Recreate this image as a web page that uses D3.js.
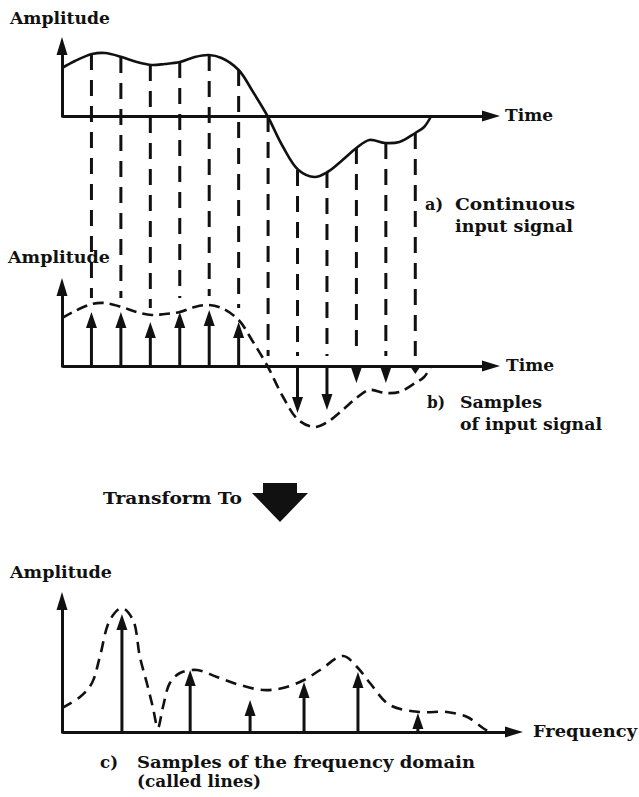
<!DOCTYPE html>
<html>
<head>
<meta charset="utf-8">
<script src="https://cdn.jsdelivr.net/npm/d3@7"></script>
<style>
  html, body { margin: 0; padding: 0; background: #fff; }
  text { font-family: "DejaVu Serif", "Liberation Serif", serif; font-weight: bold; fill: #111; }
</style>
</head>
<body>
<svg id="chart" width="639" height="797"></svg>
<script>
// ---------- DATA ----------
// a) continuous input signal (time units, amplitude)
const signalT   = [0, 0.44, 1.02, 1.46, 2.03, 2.54, 3.05, 3.49, 4, 4.51, 4.98, 5.42, 6, 6.47, 6.98, 7.49, 8.03, 8.58, 9.02, 9.53, 10, 10.44, 10.98, 11.46, 12, 12.3, 12.54];
const signalAmp = [48, 55, 62, 63, 59, 54, 51, 52, 54, 59, 61, 58, 46, 25, 0, -30, -54, -61, -56, -44, -32, -24, -27, -26, -17, -11, 0];
// sample instants and signal values there
const sampleT      = [1, 2, 3, 4, 5, 6, 7, 8, 9, 10, 11, 12];
const sampleAmp    = [62, 59, 51, 54, 61, 46, 0, -54, -56, -32, -27, -17];
// b) sample arrows
const sampleArrow  = [54, 54, 44, 54, 56, 44, 0, -47, -44, -17, -17, -8];
// c) frequency domain envelope
const freqF   = [0, 3.9, 6.5, 8.2, 10.4, 13, 15.4, 16.9, 18.4, 19.7, 20.8, 21.9, 23.4, 25.6, 29.3, 33.6, 38.6, 43.6, 47.9, 52.5, 56, 61, 64, 66.8, 71.1, 77.7, 83.5, 87.9, 91.3, 92.8];
const freqAmp = [24, 35, 49, 75, 112, 124, 112, 75, 49, 25, 4, 25, 49, 59, 62, 55, 47, 42, 44, 52, 62, 76, 65, 49, 27, 20, 20, 15, 4, 0];
// spectral lines
const lineF   = [13, 27.8, 40.8, 52.5, 64.2, 77.2];
const lineAmp = [118, 62, 32, 50, 60, 19];

// ---------- SETUP ----------
const svg = d3.select("#chart");
const INK = "#111";

const xTime = d3.scaleLinear().domain([0, 14.3]).range([62, 483]);
const yTop  = d3.scaleLinear().domain([-70, 79]).range([186, 37]);
const yMid  = d3.scaleLinear().domain([-70, 88]).range([436, 278]);
const xFreq = d3.scaleLinear().domain([0, 100]).range([62, 523]);
const yFreq = d3.scaleLinear().domain([0, 140]).range([732, 592]);

function arrowHead(g, x, yTip, w, h, dir) {
  // dir: -1 points up, +1 points down, 'r' points right
  let pts;
  if (dir === 'r') pts = [[x, yTip], [x - h, yTip - w / 2], [x - h, yTip + w / 2]];
  else pts = [[x, yTip], [x - w / 2, yTip - dir * h], [x + w / 2, yTip - dir * h]];
  g.append("polygon").attr("points", pts.map(p => p.join(",")).join(" ")).attr("fill", INK);
}

function axes(g, xs, ys, tipX) {
  // horizontal axis via d3.axisBottom with no ticks
  const ax = g.append("g").attr("transform", `translate(0,${ys(0)})`)
    .call(d3.axisBottom(xs.copy().range([xs.range()[0], tipX - 10])).tickValues([]).tickSizeOuter(0));
  ax.select(".domain").attr("stroke", INK).attr("stroke-width", 3);
  arrowHead(g, tipX, ys(0), 11, 18, 'r');
  // vertical axis via d3.axisLeft with no ticks
  const ay = g.append("g").attr("transform", `translate(${xs.range()[0]},0)`)
    .call(d3.axisLeft(ys.copy().domain([0, ys.domain()[1]]).range([ys(0) + 1, ys.range()[1] + 16])).tickValues([]).tickSizeOuter(0));
  ay.select(".domain").attr("stroke", INK).attr("stroke-width", 3);
  arrowHead(g, xs.range()[0], ys.range()[1], 11, 18, -1);
}

const curve = d3.curveCatmullRom.alpha(0.5);

// ---------- PANEL A ----------
const gA = svg.append("g");
axes(gA, xTime, yTop, 500);
gA.append("path")
  .attr("d", d3.line().x((d, i) => xTime(signalT[i])).y((d) => yTop(d)).curve(curve)(signalAmp))
  .attr("fill", "none").attr("stroke", INK).attr("stroke-width", 2.6);

// connecting dashed verticals (from signal down to the sample arrows)
const gD = svg.append("g");
sampleT.forEach((t, i) => {
  const y1 = yTop(sampleAmp[i]);
  const y2 = sampleArrow[i] > 0 ? yMid(sampleArrow[i]) - 14 : yMid(0) - 10;
  gD.append("line")
    .attr("x1", xTime(t)).attr("x2", xTime(t))
    .attr("y1", y1).attr("y2", y2)
    .attr("stroke", INK).attr("stroke-width", 3).attr("stroke-dasharray", "16,10");
});

// ---------- PANEL B ----------
const gB = svg.append("g");
axes(gB, xTime, yMid, 500);
gB.append("path")
  .attr("d", d3.line().x((d, i) => xTime(signalT[i])).y((d) => yMid(d)).curve(curve)(signalAmp))
  .attr("fill", "none").attr("stroke", INK).attr("stroke-width", 2.6).attr("stroke-dasharray", "11,6");
sampleT.forEach((t, i) => {
  const v = sampleArrow[i];
  if (v === 0) return;
  const x = xTime(t), y0 = yMid(0), y1 = yMid(v);
  const dir = v > 0 ? -1 : 1;
  const h = Math.min(16, Math.abs(y1 - y0));
  gB.append("line").attr("x1", x).attr("x2", x).attr("y1", y0).attr("y2", y1 - dir * h * 0.5)
    .attr("stroke", INK).attr("stroke-width", 3);
  arrowHead(gB, x, y1, 11, h, dir);
});

// ---------- PANEL C ----------
const gC = svg.append("g");
axes(gC, xFreq, yFreq, 523);
gC.append("path")
  .attr("d", d3.line().x((d, i) => xFreq(freqF[i])).y((d) => yFreq(d)).curve(curve)(freqAmp))
  .attr("fill", "none").attr("stroke", INK).attr("stroke-width", 2.6).attr("stroke-dasharray", "11,7");
lineF.forEach((f, i) => {
  const x = xFreq(f), y0 = yFreq(0), y1 = yFreq(lineAmp[i]);
  const h = Math.min(16, y0 - y1);
  gC.append("line").attr("x1", x).attr("x2", x).attr("y1", y0).attr("y2", y1 + h * 0.5)
    .attr("stroke", INK).attr("stroke-width", 3);
  arrowHead(gC, x, y1, 11, h, -1);
});

// ---------- TRANSFORM ARROW ----------
svg.append("polygon")
  .attr("points", "263,483 297,483 297,493 308,493 280,522 252,493 263,493")
  .attr("fill", INK);

// ---------- TEXT ----------
function label(x, y, s, len, size) {
  const t = svg.append("text").attr("x", x).attr("y", y).attr("font-size", size || 16).text(s);
  if (len) t.attr("textLength", len).attr("lengthAdjust", "spacingAndGlyphs");
  return t;
}
label(10, 24, "Amplitude", 100, 16);
label(505, 121, "Time", 48, 16);
label(425, 210, "a)", 18, 16);
label(455, 210, "Continuous", 120, 16);
label(455, 232, "input signal", 118, 16);

label(8, 263, "Amplitude", 102, 16);
label(506, 371, "Time", 48, 16);
label(427, 408, "b)", 18, 16);
label(460, 408, "Samples", 82, 16);
label(460, 430, "of input signal", 142, 16);

label(103, 504, "Transform To", 139, 16);

label(10, 578, "Amplitude", 102, 16);
label(533, 737, "Frequency", 104, 16);
label(100, 768, "c)", 18, 16);
label(137, 768, "Samples of the frequency domain", 338, 16);
label(137, 787, "(called lines)", 124, 16);
</script>
</body>
</html>
